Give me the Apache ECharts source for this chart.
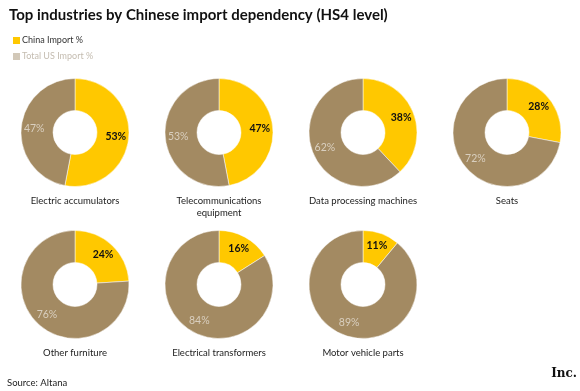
<!DOCTYPE html>
<html>
<head>
<meta charset="utf-8">
<script src="https://cdn.jsdelivr.net/npm/echarts@6/dist/echarts.min.js"></script>
<style>html,body{margin:0;padding:0;background:#fff}#c{width:580px;height:391px}</style>
</head>
<body>
<div id="c"></div>
<script>
var categories = ['Electric accumulators', 'Telecommunications\nequipment', 'Data processing machines', 'Seats', 'Other furniture', 'Electrical transformers', 'Motor vehicle parts'];
var chinaImport = [53, 47, 38, 28, 24, 16, 11];
var totalUSImport = [47, 53, 62, 72, 76, 84, 89];
var seriesNames = ['China Import %', 'Total US Import %'];

var centers = [[75, 132.5], [219, 132.5], [363, 132.5], [507, 132.5], [75, 284.5], [219, 284.5], [363, 284.5]];
var FONT = 'Lato, Inter, "Noto Sans", sans-serif';
var YELLOW = '#FFC800';
var BROWN = '#A38A62';

var series = categories.map(function (cat, i) {
  return {
    type: 'pie',
    name: cat,
    center: centers[i],
    radius: [22, 54],
    startAngle: 90,
    clockwise: true,
    silent: true,
    avoidLabelOverlap: false,
    itemStyle: { borderColor: '#fff', borderWidth: 0.5 },
    label: { show: true, position: 'inside', formatter: '{c}%', fontFamily: FONT, fontSize: 10.5 },
    labelLine: { show: false },
    data: [
      { name: seriesNames[0], value: chinaImport[i], itemStyle: { color: YELLOW }, label: { color: '#111', fontWeight: 'bold' } },
      { name: seriesNames[1], value: totalUSImport[i], itemStyle: { color: BROWN }, label: { color: '#D9CFBF', fontWeight: 'normal' } }
    ]
  };
});

var graphics = categories.map(function (cat, i) {
  return {
    type: 'text',
    x: centers[i][0],
    y: centers[i][1] + 62,
    style: { text: cat, textAlign: 'center', textVerticalAlign: 'top', fill: '#222', font: '9.5px ' + FONT, lineHeight: 12 }
  };
});
graphics.push({ type: 'text', x: 7, y: 378, style: { text: 'Source: Altana', fill: '#222', font: '9.5px ' + FONT } });
graphics.push({ type: 'text', x: 577, y: 368, style: { text: 'Inc.', textAlign: 'right', fill: '#111', font: 'bold 12px "DejaVu Serif", "Liberation Serif", serif' } });

var chart = echarts.init(document.getElementById('c'));
chart.setOption({
  backgroundColor: '#fff',
  animation: false,
  title: {
    text: 'Top industries by Chinese import dependency (HS4 level)',
    left: 4, top: 3,
    textStyle: { fontFamily: FONT, fontSize: 15, fontWeight: 'bold', color: '#111' }
  },
  legend: {
    orient: 'vertical', left: 6, top: 30,
    icon: 'rect', itemWidth: 9, itemHeight: 9, itemGap: 5,
    selectedMode: false,
    textStyle: { fontFamily: FONT, fontSize: 9, padding: [0, 0, 0, -4] },
    data: [
      { name: seriesNames[0], itemStyle: { color: YELLOW }, textStyle: { color: '#333' } },
      { name: seriesNames[1], itemStyle: { color: '#D2C8B8' }, textStyle: { color: '#C4BCB0' } }
    ]
  },
  graphic: graphics,
  series: series
});
</script>
</body>
</html>
